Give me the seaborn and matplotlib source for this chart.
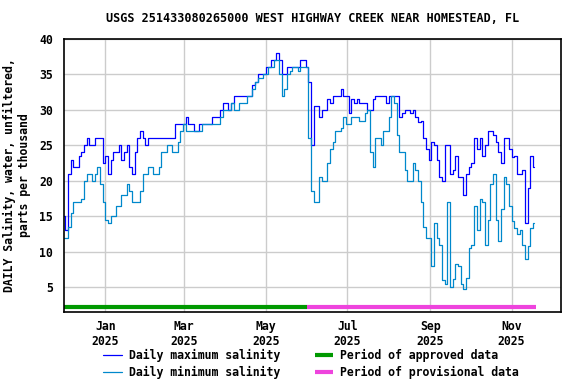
import pandas as pd
import matplotlib
matplotlib.use("Agg")
import matplotlib.pyplot as plt
import seaborn as sns

# Daily salinity, every second day from 2024-12-01

max_salinity = [
    15, 13, 21, 23, 22, 22, 23.5, 24, 25, 26, 25, 25, 26, 26, 26, 22.5,
    23.5, 21, 23, 24, 24, 25, 23, 24, 25, 22, 21, 24, 26, 27, 26, 25,
    26, 26, 26, 26, 26, 26, 26, 26, 26, 26, 28, 28, 28, 28, 29, 28,
    28, 27, 27, 28, 28, 28, 28, 28, 29, 29, 29, 30, 31, 31, 30, 31,
    32, 32, 32, 32, 32, 32, 32, 33.5, 34, 35, 35, 35, 36, 36, 37, 37,
    38, 37, 35, 35, 36, 36, 36, 36, 36, 37, 37, 36, 34, 25, 30.5, 30.5,
    29, 30, 30, 31.5, 31, 32, 32, 32, 33, 32, 32, 29.5, 31.5, 31, 31.5, 31,
    31, 31, 30, 30, 31.5, 32, 32, 32, 32, 31, 32, 32, 32, 32, 29, 29.5,
    30, 30, 29.5, 30, 29, 28.3, 28.5, 26, 24.5, 23, 25.5, 25, 23, 20.5, 20, 25,
    25, 21, 21.5, 23.5, 20.5, 20.5, 18, 21, 22, 22.5, 26, 24.5, 26, 23.5, 25, 27,
    27, 26.5, 25.5, 24, 22.5, 26, 26, 24.5, 23.3, 23.5, 21, 21, 21.5, 14, 19, 23.5,
    22,
]

min_salinity = [
    12, 12, 13.5, 15.5, 17, 17, 17, 17.5, 20, 21, 21, 20, 21, 22, 19.5, 17,
    14.5, 14, 15, 15, 16.5, 16.5, 18, 18, 19.5, 18.5, 17, 17, 17, 18.5, 21, 21,
    22, 22, 21, 21, 22, 24, 24, 25, 25, 24, 24, 25.5, 27, 28, 27, 27,
    27, 27, 27, 27, 28, 28, 28, 28, 28, 28, 28, 29, 30, 30, 30, 31,
    30, 30, 31, 31, 31, 32, 32, 33, 34, 34.5, 34.5, 35, 35, 36, 36, 37,
    37, 35, 32, 33, 35, 35.5, 36, 36, 35.5, 36, 36, 36, 26, 18.5, 17, 17,
    20.5, 20, 20, 22.5, 24.5, 25.5, 27, 27, 27.5, 29, 28, 28, 29, 29, 29, 28.5,
    28.5, 29.5, 30, 24, 22, 26, 26, 25, 27, 27, 29, 32, 31, 26.5, 24, 24,
    21.5, 20, 20, 22.5, 21.5, 20, 17, 13.5, 12, 12, 8, 14, 12, 11, 6, 5.5,
    17, 5, 6.2, 8.2, 8, 5.5, 4.7, 6.3, 10.5, 11, 16.5, 13, 17.5, 17, 11, 14.5,
    19.5, 21, 14.5, 11.5, 16, 20.5, 19.5, 16.5, 14.3, 13.3, 12.5, 13, 11, 9, 10.8, 13.3,
    14,
]

dates = pd.date_range("2024-12-01", periods=len(max_salinity), freq="2D")

approved_period = [pd.Timestamp("2024-12-01"), pd.Timestamp("2025-06-01")]
provisional_period = [pd.Timestamp("2025-06-01"), pd.Timestamp("2025-11-19")]
period_level = 2.2

tick_dates = pd.to_datetime(["2025-01-01", "2025-03-01", "2025-05-01",
                             "2025-07-01", "2025-09-01", "2025-11-01"])
tick_labels = ["Jan\n2025", "Mar\n2025", "May\n2025",
               "Jul\n2025", "Sep\n2025", "Nov\n2025"]

df = pd.DataFrame({"date": dates, "max": max_salinity, "min": min_salinity})

sns.set_style("white")
plt.rcParams["font.family"] = ["DejaVu Sans Mono", "DejaVu Sans"]
plt.rcParams["font.weight"] = "bold"
plt.rcParams["text.color"] = "black"
plt.rcParams["axes.labelcolor"] = "black"
plt.rcParams["xtick.color"] = "black"
plt.rcParams["ytick.color"] = "black"

fig = plt.figure(figsize=(5.76, 3.84), dpi=100)
ax = fig.add_axes([0.111, 0.1875, 0.863, 0.711])

sns.lineplot(data=df, x="date", y="max", ax=ax, color="#0000ff", lw=0.9,
             drawstyle="steps-mid", label="Daily maximum salinity")
sns.lineplot(data=df, x="date", y="min", ax=ax, color="#0088cc", lw=0.9,
             drawstyle="steps-mid", label="Daily minimum salinity")

ax.plot(approved_period, [period_level] * 2, color="#009900", lw=3,
        solid_capstyle="butt", label="Period of approved data")
ax.plot(provisional_period, [period_level] * 2, color="#ee44dd", lw=3,
        solid_capstyle="butt", label="Period of provisional data")

ax.set_xlim(pd.Timestamp("2024-12-01"), pd.Timestamp("2025-12-08"))
ax.set_ylim(1.5, 40)
ax.set_yticks(range(5, 41, 5))
ax.set_xticks(tick_dates)
ax.set_xticklabels(tick_labels, fontsize=8.3, fontweight="bold")
ax.tick_params(axis="y", labelsize=8.3, length=0, pad=8)
ax.tick_params(axis="x", length=0, pad=6)
for lab in ax.get_yticklabels():
    lab.set_fontweight("bold")

ax.grid(True, color="#cccccc", lw=1)
for s in ax.spines.values():
    s.set_color("black")
    s.set_linewidth(1.2)

ax.set_xlabel("")
ax.set_ylabel("DAILY Salinity, water, unfiltered,\nparts per thousand",
              fontsize=8.3, fontweight="bold", labelpad=6)
ax.set_title("USGS 251433080265000 WEST HIGHWAY CREEK NEAR HOMESTEAD, FL",
             fontsize=8.5, fontweight="bold", pad=12)

handles, labels = ax.get_legend_handles_labels()
ax.get_legend().remove()
fig.legend(handles, labels, ncol=2, loc="center", bbox_to_anchor=(0.54, 0.052),
           frameon=False, fontsize=8.3, handlelength=1.6, columnspacing=3.0,
           handletextpad=0.6, labelspacing=0.35)

fig.savefig("out.png", dpi=100)
